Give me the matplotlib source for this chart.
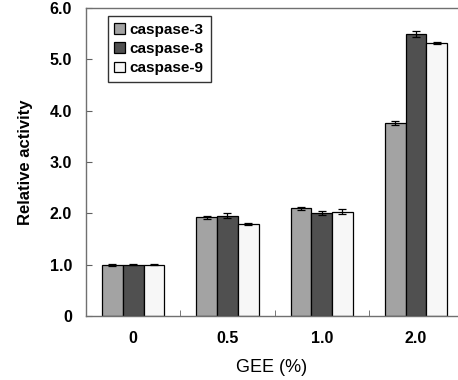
import matplotlib
matplotlib.use("Agg")
import matplotlib.pyplot as plt
import numpy as np

categories = ["0", "0.5", "1.0", "2.0"]
series = ["caspase-3", "caspase-8", "caspase-9"]
casp3 = [1.00, 1.92, 2.10, 3.76]
casp8 = [1.00, 1.95, 2.01, 5.50]
casp9 = [1.00, 1.80, 2.03, 5.32]
err3 = [0.02, 0.03, 0.03, 0.03]
err8 = [0.01, 0.05, 0.04, 0.06]
err9 = [0.01, 0.02, 0.05, 0.02]
yticks = [0, 1, 2, 3, 4, 5, 6]
yticklabels = ["0", "1.0", "2.0", "3.0", "4.0", "5.0", "6.0"]

plt.rcParams['font.family'] = ['Liberation Sans', 'DejaVu Sans']

fig = plt.figure(figsize=(4.58, 3.8), dpi=100)
ax = fig.add_axes([86/458, 64/380, 371/458, 308/380])

colors = ["#a3a3a3", "#505050", "#f7f7f7"]
x = np.arange(len(categories))
w = 0.22
for i, (vals, errs) in enumerate([(casp3, err3), (casp8, err8), (casp9, err9)]):
    ax.bar(x + (i - 1) * w, vals, w, color=colors[i], edgecolor="black",
           linewidth=0.9, label=series[i], yerr=errs,
           error_kw=dict(ecolor="black", elinewidth=0.9, capsize=3, capthick=0.9),
           zorder=2)

ax.set_xlim(-0.5, 3.435)
ax.set_ylim(0, 6)
ax.set_yticks(yticks)
ax.set_yticklabels(yticklabels, fontsize=11.5, fontweight="bold")
ax.set_xticks(x)
ax.set_xticklabels(categories, fontsize=11.5, fontweight="bold")
ax.set_xticks([0.5, 1.5, 2.5], minor=True)
ax.tick_params(axis="y", direction="in", length=4, pad=10, color="#606060")
ax.tick_params(axis="x", which="major", length=0, pad=11)
ax.tick_params(axis="x", which="minor", direction="in", length=4, color="#606060")

for s in ["left", "top", "bottom"]:
    ax.spines[s].set_color("#707070")
    ax.spines[s].set_linewidth(1.0)
ax.spines["right"].set_visible(False)

ax.set_ylabel("Relative activity", fontsize=12, fontweight="bold", labelpad=12)
ax.set_xlabel("GEE (%)", fontsize=13, labelpad=9)

leg = ax.legend(loc="upper left", bbox_to_anchor=(0.05, 0.985), frameon=True,
                fancybox=False, edgecolor="black", prop=dict(size=11, weight="bold"),
                handlelength=0.7, handleheight=0.7, handletextpad=0.3,
                borderpad=0.45, labelspacing=0.35, borderaxespad=0.2)
leg.get_frame().set_linewidth(1.0)

fig.savefig("out.png", dpi=100)
